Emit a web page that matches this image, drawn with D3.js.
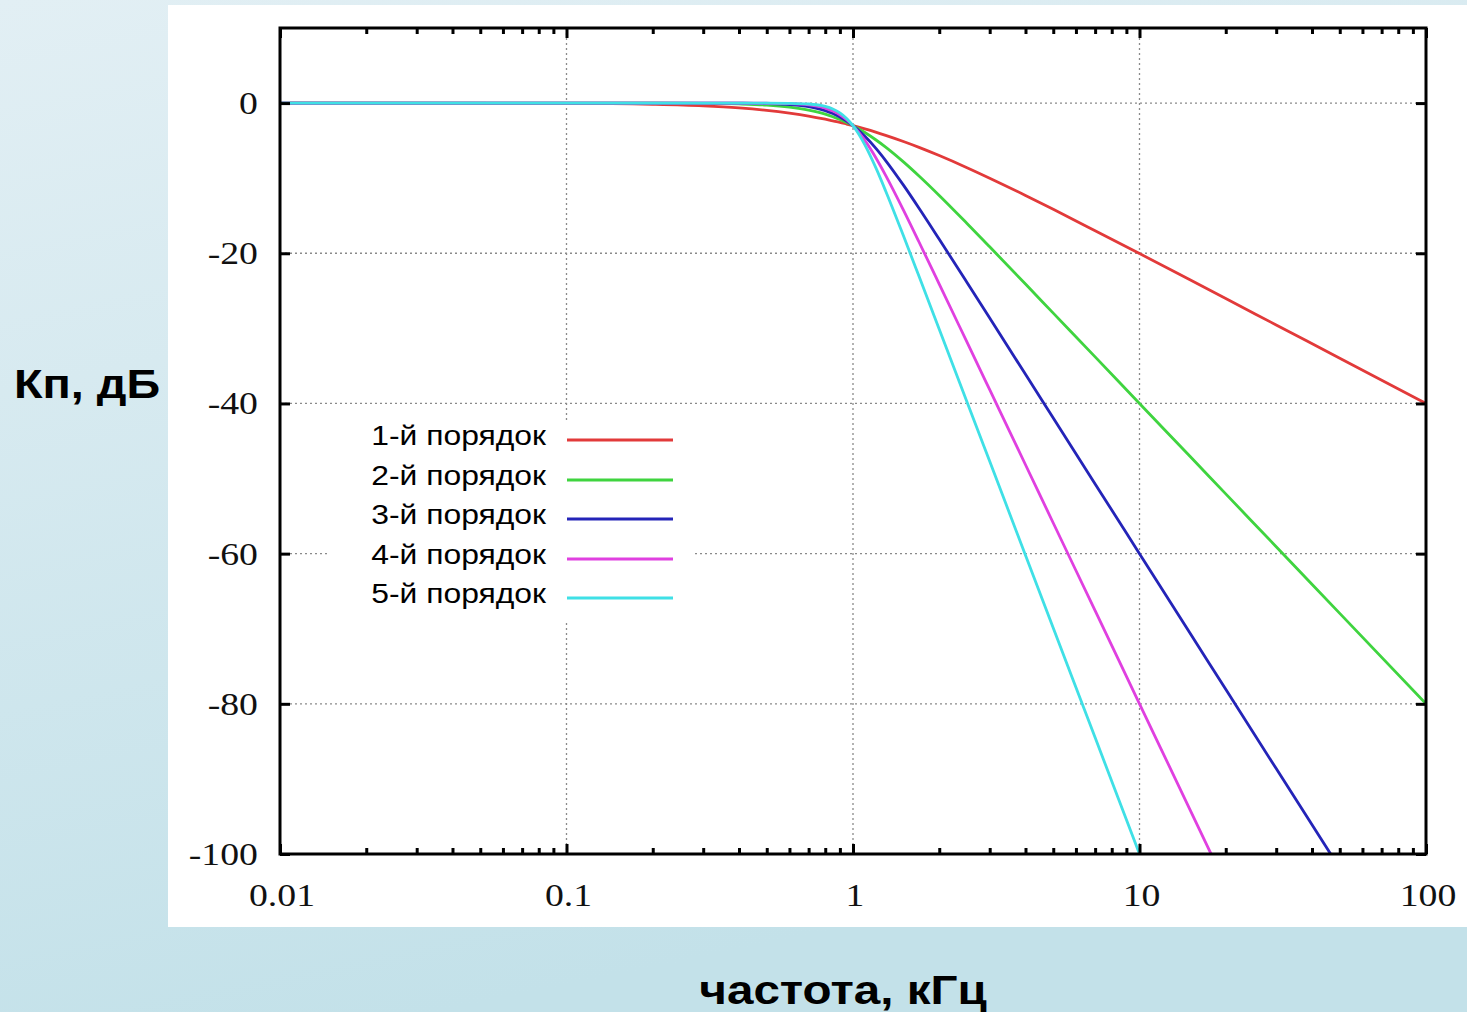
<!DOCTYPE html>
<html>
<head>
<meta charset="utf-8">
<script src="https://cdn.jsdelivr.net/npm/d3@7"></script>
<style>
  body { margin: 0; padding: 0; overflow: hidden; }
</style>
</head>
<body>
<script>
// frequencies (kHz) and gain (dB)
var freqs = [0.01, 0.1, 0.2, 0.3, 0.4, 0.5, 0.6, 0.7, 0.8, 0.85, 0.9, 0.95, 1, 1.1, 1.2, 1.3, 1.5, 1.7, 2, 2.5, 3, 4, 5, 7, 10, 15, 20, 30, 50, 100];
var order1 = [0, -0.04, -0.17, -0.37, -0.64, -0.97, -1.34, -1.73, -2.15, -2.36, -2.56, -2.79, -3.01, -3.44, -3.87, -4.30, -5.12, -5.90, -6.99, -8.60, -10.0, -12.30, -14.15, -17.0, -20.04, -23.54, -26.03, -29.55, -33.98, -40.0];
var order2 = [0, 0, -0.01, -0.04, -0.11, -0.26, -0.54, -0.94, -1.48, -1.82, -2.19, -2.59, -3.01, -3.92, -4.88, -5.86, -7.83, -9.71, -12.30, -16.03, -19.14, -24.10, -27.97, -33.8, -40.0, -47.04, -52.04, -59.08, -67.96, -80.0];
var order3 = [0, 0, 0, 0, -0.02, -0.07, -0.20, -0.48, -1.01, -1.39, -1.85, -2.39, -3.01, -4.43, -6.00, -7.65, -10.93, -14.00, -18.13, -23.89, -28.63, -36.12, -41.94, -50.71, -60.0, -70.56, -78.07, -88.63, -101.9, -120.0];
var order4 = [0, 0, 0, 0, 0, -0.02, -0.07, -0.24, -0.67, -1.05, -1.55, -2.20, -3.01, -4.97, -7.24, -9.62, -14.25, -18.50, -24.10, -31.84, -38.17, -48.16, -55.92, -67.6, -80.0, -94.08, -104.1, -118.2, -135.9, -160.0];
var order5 = [0, 0, 0, 0, 0, 0, -0.03, -0.12, -0.44, -0.78, -1.30, -2.04, -3.01, -5.56, -8.57, -11.70, -17.68, -23.07, -30.11, -39.79, -47.71, -60.21, -69.9, -84.5, -100.0, -117.6, -130.1, -147.7, -169.9, -200.0];

var series_names = ["1-й порядок", "2-й порядок", "3-й порядок", "4-й порядок", "5-й порядок"];
var series_colors = ["#e23a3a", "#3fd43f", "#2424b8", "#e040e0", "#3fe0e6"];
var series_values = [order1, order2, order3, order4, order5];

var x_ticks = [0.01, 0.1, 1, 10, 100];
var x_tick_labels = ["0.01", "0.1", "1", "10", "100"];
var y_ticks = [0, -20, -40, -60, -80, -100];

var W = 1467, H = 1012;
var pl = 280, pr = 1426, pt = 28, pb = 854;

var svg = d3.select("body").append("svg")
  .attr("width", W)
  .attr("height", H);

// background gradient
var defs = svg.append("defs");
var grad = defs.append("linearGradient")
  .attr("id", "bg")
  .attr("x1", "0").attr("y1", "0")
  .attr("x2", "0.3").attr("y2", "1");
grad.append("stop").attr("offset", "0").attr("stop-color", "#e2eff4");
grad.append("stop").attr("offset", "1").attr("stop-color", "#c3e1e9");

defs.append("clipPath").attr("id", "plotclip")
  .append("rect")
  .attr("x", pl).attr("y", pt)
  .attr("width", pr - pl).attr("height", pb - pt);

svg.append("rect")
  .attr("width", W).attr("height", H)
  .attr("fill", "url(#bg)");

// white panel
svg.append("rect")
  .attr("x", 168).attr("y", 5)
  .attr("width", W - 168).attr("height", 922)
  .attr("fill", "#ffffff");

var x = d3.scaleLog().domain([0.01, 100]).range([pl, pr]);
var y = d3.scaleLinear().domain([-100, 10]).range([pb, pt]);

// grid
var grid = svg.append("g")
  .attr("stroke", "#8a8a8a")
  .attr("stroke-width", 1.3)
  .attr("stroke-dasharray", "2,3");
grid.selectAll("line.vg")
  .data([0.1, 1, 10])
  .enter().append("line")
  .attr("class", "vg")
  .attr("x1", function(d) { return x(d); })
  .attr("x2", function(d) { return x(d); })
  .attr("y1", pt).attr("y2", pb);
grid.selectAll("line.hg")
  .data([0, -20, -40, -60, -80])
  .enter().append("line")
  .attr("class", "hg")
  .attr("x1", pl).attr("x2", pr)
  .attr("y1", function(d) { return y(d); })
  .attr("y2", function(d) { return y(d); });

// legend background hides the grid
svg.append("rect")
  .attr("x", 330).attr("y", 422)
  .attr("width", 363).attr("height", 198)
  .attr("fill", "#ffffff");

// curves
var line = d3.line()
  .x(function(d) { return x(d[0]); })
  .y(function(d) { return y(d[1]); })
  .curve(d3.curveMonotoneX);

var curves = svg.append("g").attr("clip-path", "url(#plotclip)");
series_values.forEach(function(vals, i) {
  var pts = freqs.map(function(f, j) { return [f, vals[j]]; });
  curves.append("path")
    .datum(pts)
    .attr("d", line)
    .attr("fill", "none")
    .attr("stroke", series_colors[i])
    .attr("stroke-width", 2.8);
});

// axes (ticks inward)
var minor = [];
for (var e = -2; e < 2; e++) {
  for (var m = 2; m <= 9; m++) {
    minor.push(m * Math.pow(10, e));
  }
}

var x_bottom = d3.axisTop(x).tickValues(x_ticks).tickSize(10).tickFormat("");
var x_top = d3.axisBottom(x).tickValues(x_ticks).tickSize(10).tickFormat("");
var x_bottom_minor = d3.axisTop(x).tickValues(minor).tickSize(6).tickFormat("");
var x_top_minor = d3.axisBottom(x).tickValues(minor).tickSize(6).tickFormat("");
var y_left = d3.axisRight(y).tickValues(y_ticks).tickSize(10).tickFormat("");
var y_right = d3.axisLeft(y).tickValues(y_ticks).tickSize(10).tickFormat("");

function style_axis(g) {
  g.select(".domain").remove();
  g.selectAll(".tick line").attr("stroke", "#000").attr("stroke-width", 3);
}

svg.append("g").attr("transform", "translate(0," + pb + ")").call(x_bottom).call(style_axis);
svg.append("g").attr("transform", "translate(0," + pt + ")").call(x_top).call(style_axis);
svg.append("g").attr("transform", "translate(0," + pb + ")").call(x_bottom_minor).call(style_axis);
svg.append("g").attr("transform", "translate(0," + pt + ")").call(x_top_minor).call(style_axis);
svg.append("g").attr("transform", "translate(" + pl + ",0)").call(y_left).call(style_axis);
svg.append("g").attr("transform", "translate(" + pr + ",0)").call(y_right).call(style_axis);

// frame
svg.append("rect")
  .attr("x", pl).attr("y", pt)
  .attr("width", pr - pl).attr("height", pb - pt)
  .attr("fill", "none")
  .attr("stroke", "#000")
  .attr("stroke-width", 3);

// tick labels (serif, slightly stretched like the picture)
var stretch = 1.18;
svg.selectAll("text.ylab")
  .data(y_ticks)
  .enter().append("text")
  .attr("class", "ylab")
  .attr("transform", function(d) { return "translate(258," + (y(d) + 11) + ") scale(" + stretch + ",1)"; })
  .attr("text-anchor", "end")
  .style("font-family", "'Liberation Serif', 'DejaVu Serif', serif")
  .style("font-size", "32px")
  .attr("fill", "#111")
  .text(function(d) { return d; });

svg.selectAll("text.xlab")
  .data(x_ticks)
  .enter().append("text")
  .attr("class", "xlab")
  .attr("transform", function(d) { return "translate(" + (x(d) + 2) + ",906) scale(" + stretch + ",1)"; })
  .attr("text-anchor", "middle")
  .style("font-family", "'Liberation Serif', 'DejaVu Serif', serif")
  .style("font-size", "32px")
  .attr("fill", "#111")
  .text(function(d, i) { return x_tick_labels[i]; });

// legend
var leg_y = [440, 480, 519, 559, 598];
var legend = svg.append("g");
series_names.forEach(function(name, i) {
  legend.append("text")
    .attr("transform", "translate(546," + (leg_y[i] + 5) + ") scale(1.18,1)")
    .attr("text-anchor", "end")
    .style("font-family", "'Liberation Sans', Arial, sans-serif")
    .style("font-size", "27px")
    .attr("fill", "#000")
    .text(name);
  legend.append("line")
    .attr("x1", 567).attr("x2", 673)
    .attr("y1", leg_y[i]).attr("y2", leg_y[i])
    .attr("stroke", series_colors[i])
    .attr("stroke-width", 2.8);
});

// axis titles
svg.append("text")
  .attr("transform", "translate(87,398) scale(1.17,1)")
  .attr("text-anchor", "middle")
  .style("font-family", "'Liberation Sans', Arial, sans-serif")
  .style("font-weight", "bold")
  .style("font-size", "40px")
  .attr("fill", "#000")
  .text("Кп, дБ");

svg.append("text")
  .attr("transform", "translate(843,1004) scale(1.19,1)")
  .attr("text-anchor", "middle")
  .style("font-family", "'Liberation Sans', Arial, sans-serif")
  .style("font-weight", "bold")
  .style("font-size", "40px")
  .attr("fill", "#000")
  .text("частота, кГц");
</script>
</body>
</html>
